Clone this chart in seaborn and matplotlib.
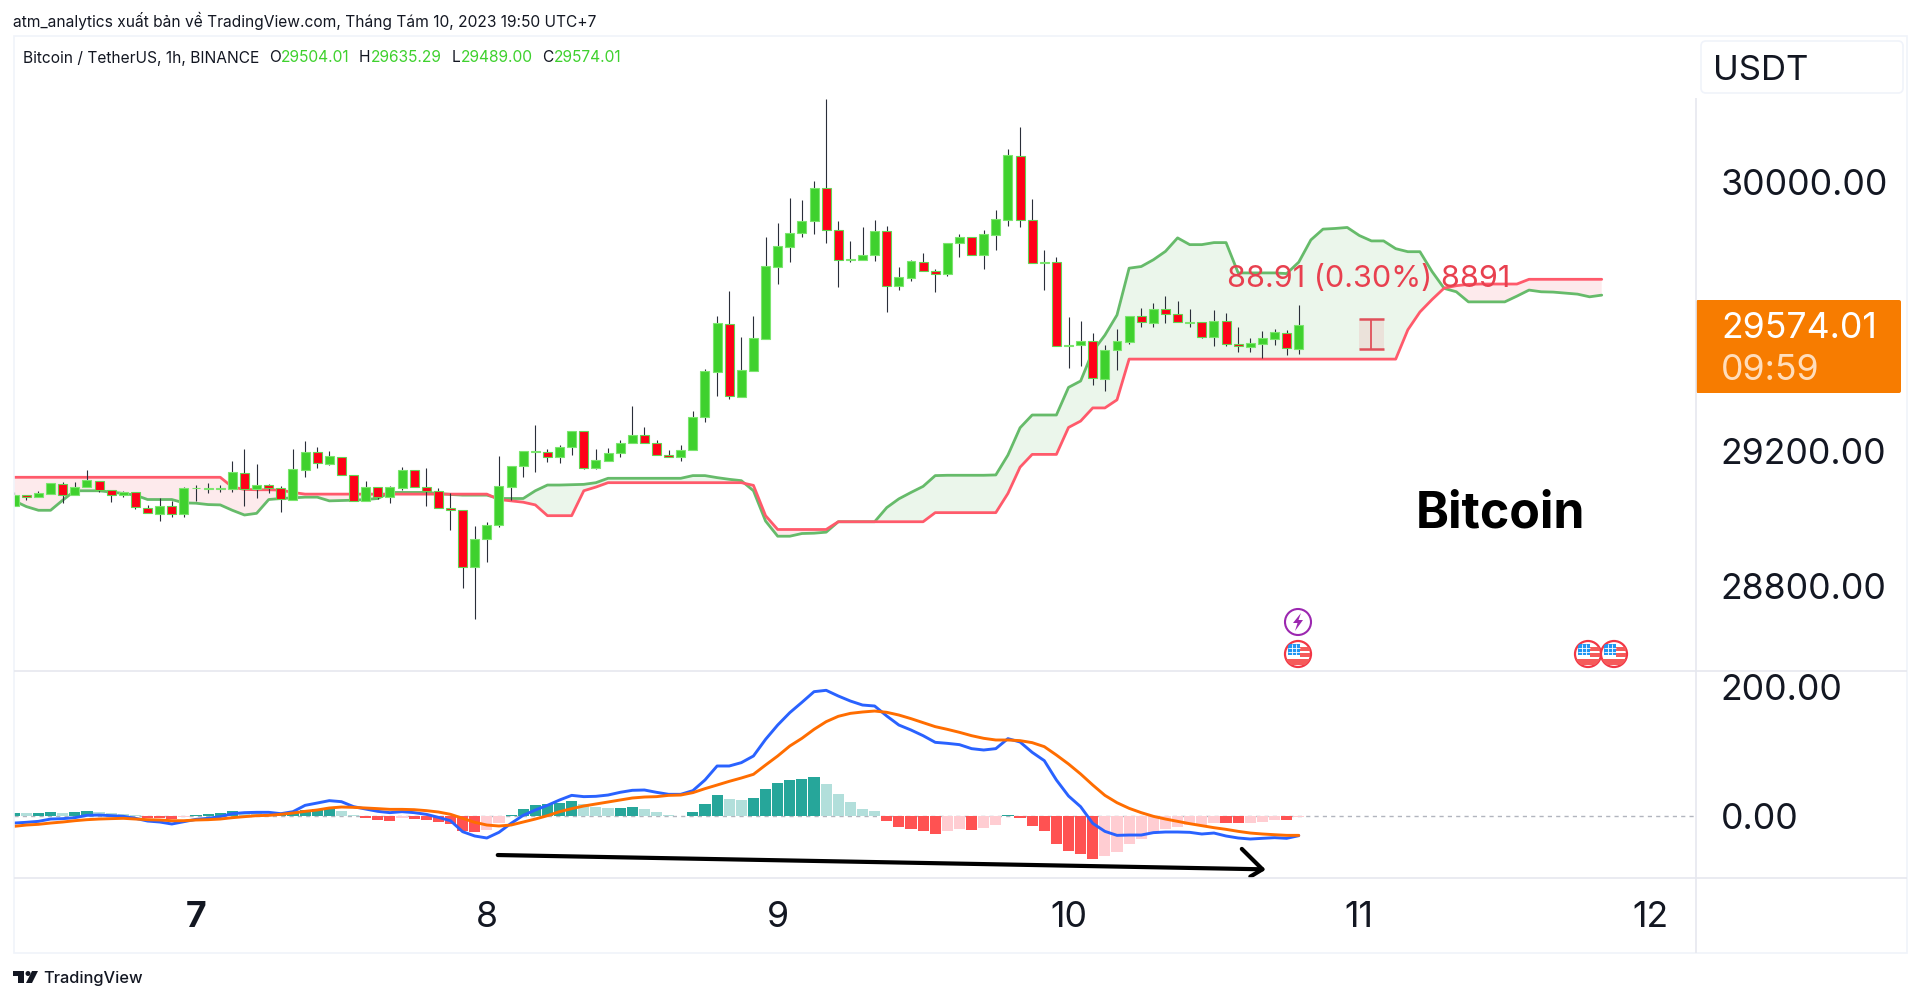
import numpy as np
import pandas as pd
import matplotlib
matplotlib.use('Agg')
import matplotlib.pyplot as plt
from matplotlib.patches import Circle, FancyBboxPatch, Polygon, Rectangle
import seaborn as sns

# hourly candles, hour 0 = Aug 7 00:00
first_hour = -15
opens = [29039, 29069, 29064, 29074, 29104, 29070, 29094, 29113, 29085, 29069, 29078, 29033, 29015, 29038, 29014,
         29090, 29089, 29089, 29089, 29137, 29087, 29100, 29090, 29057, 29146, 29197, 29163, 29184, 29129, 29053,
         29094, 29064, 29092, 29144, 29093, 29081, 29031, 29025, 28858, 28939, 28982, 29095, 29156, 29197, 29197,
         29182, 29213, 29259, 29151, 29172, 29196, 29226, 29249, 29225, 29188, 29182, 29203, 29301, 29437, 29579,
         29362, 29440, 29535, 29748, 29808, 29848, 29885, 29982, 29856, 29767, 29769, 29783, 29853, 29692, 29716,
         29763, 29736, 29727, 29820, 29837, 29783, 29844, 29888, 30078, 29886, 29758, 29761, 29513, 29516, 29527,
         29416, 29501, 29526, 29602, 29582, 29622, 29609, 29582, 29583, 29541, 29586, 29518, 29511, 29519, 29535,
         29553, 29504.01]
highs = [29078, 29069, 29083, 29105, 29108, 29109, 29145, 29113, 29085, 29082, 29078, 29041, 29062, 29053, 29094,
         29099, 29107, 29101, 29172, 29207, 29163, 29103, 29097, 29207, 29232, 29213, 29201, 29184, 29129, 29112,
         29094, 29097, 29155, 29144, 29151, 29092, 29076, 29027, 28977, 28990, 29187, 29156, 29200, 29278, 29206,
         29218, 29260, 29259, 29206, 29209, 29234, 29335, 29273, 29234, 29204, 29219, 29321, 29444, 29602, 29676,
         29539, 29603, 29838, 29879, 29953, 29947, 30002, 30246, 29884, 29824, 29866, 29886, 29869, 29747, 29768,
         29790, 29741, 29820, 29847, 29837, 29856, 29917, 30098, 30162, 29950, 29798, 29776, 29598, 29587, 29552,
         29515, 29564, 29602, 29627, 29642, 29661, 29646, 29623, 29583, 29619, 29611, 29569, 29537, 29556, 29563,
         29561, 29635.29]
lows = [29039, 29057, 29064, 29074, 29048, 29070, 29094, 29078, 29050, 29064, 29030, 29016, 28994, 29004, 29004,
        29053, 29077, 29078, 29078, 29039, 29062, 29076, 29021, 29057, 29123, 29152, 29160, 29129, 29053, 29053,
        29059, 29048, 29085, 29094, 29037, 29032, 28967, 28793, 28703, 28870, 28975, 29057, 29123, 29139, 29169,
        29166, 29189, 29149, 29149, 29172, 29183, 29226, 29226, 29189, 29183, 29172, 29203, 29287, 29364, 29357,
        29362, 29440, 29535, 29698, 29761, 29836, 29846, 29819, 29688, 29762, 29769, 29765, 29614, 29679, 29706,
        29736, 29674, 29722, 29778, 29783, 29743, 29798, 29869, 29867, 29758, 29680, 29514, 29447, 29454, 29398,
        29380, 29442, 29520, 29569, 29569, 29581, 29583, 29569, 29537, 29514, 29514, 29494, 29494, 29478, 29516,
        29486, 29489.00]
closes = [29070, 29064, 29076, 29105, 29070, 29094, 29115, 29085, 29070, 29079, 29034, 29016, 29038, 29015, 29091,
          29092, 29092, 29092, 29138, 29089, 29101, 29091, 29059, 29147, 29198, 29164, 29185, 29129, 29053, 29094,
          29064, 29093, 29145, 29094, 29081, 29032, 29025, 28858, 28940, 28982, 29097, 29156, 29200, 29200, 29183,
          29213, 29260, 29152, 29174, 29196, 29225, 29250, 29226, 29189, 29183, 29204, 29301, 29439, 29580, 29363,
          29442, 29537, 29750, 29810, 29849, 29885, 29983, 29856, 29768, 29772, 29783, 29854, 29692, 29718, 29765,
          29736, 29728, 29820, 29837, 29783, 29845, 29890, 30079, 29887, 29758, 29762, 29514, 29517, 29528, 29417,
          29501, 29528, 29602, 29584, 29622, 29609, 29583, 29584, 29541, 29587, 29518, 29512, 29522, 29537, 29554,
          29506, 29574.01]

# ichimoku cloud, runs 25 hours past the last candle
span_a = [29053, 29036, 29025, 29025, 29055, 29083, 29083, 29083, 29079, 29075, 29070, 29057, 29057, 29057, 29047,
          29046, 29042, 29041, 29025, 29011, 29016, 29057, 29060, 29062, 29064, 29064, 29053, 29054, 29055, 29057,
          29060, 29078, 29078, 29078, 29078, 29075, 29072, 29070, 29070, 29070, 29060, 29060, 29060, 29083, 29100,
          29100, 29101, 29102, 29107, 29120, 29120, 29120, 29120, 29120, 29120, 29120, 29128, 29128, 29122, 29117,
          29113, 29083, 28993, 28948, 28948, 28956, 28957, 28960, 28991, 28991, 28991, 28991, 29033, 29059, 29078,
          29096, 29128, 29129, 29129, 29129, 29129, 29130, 29189, 29270, 29308, 29308, 29308, 29390, 29409, 29497,
          29545, 29605, 29744, 29749, 29769, 29794, 29834, 29814, 29814, 29820, 29820, 29730, 29730, 29730, 29730,
          29728, 29762, 29828, 29860, 29862, 29865, 29841, 29825, 29825, 29802, 29793, 29793, 29734, 29684, 29674,
          29644, 29644, 29644, 29644, 29661, 29679, 29674, 29673, 29670, 29667, 29659, 29664]
span_b = ([29123] * 18 + [29094, 29087, 29086, 29086, 29085, 29078] + [29073] * 16
          + [29057, 29053, 29049, 29041, 29009, 29009, 29009, 29083, 29094] + [29107] * 12
          + [29099, 29009] + [28968] * 5 + [28991] * 8 + [29018] * 6
          + [29075, 29153, 29191, 29191, 29191, 29271, 29290, 29329, 29329, 29353] + [29474] * 23
          + [29561, 29614, 29651, 29685, 29692, 29696, 29697, 29697, 29697, 29697] + [29711] * 7)

macd_line = [-10.9, -9.8, -8.3, -4.7, -4.1, -2.6, 1, 1.5, 0.5, -0.5, -3.6, -7.8, -9.3, -12.4, -8.8,
             -5.2, -3.6, -1, 3.6, 5.2, 5.7, 5.7, 3.6, 6.7, 16.5, 20.1, 23.8, 22.2, 14.5, 10.8,
             7.2, 5.2, 6.7, 5.2, 2.6, -2.1, -7.3, -24.3, -31, -34.1, -25.3, -11.4, 1, 9.3, 16.5,
             24.8, 32, 30, 30.5, 32.5, 36.7, 39.8, 40.3, 36.7, 33.6, 33.6,
             39.3, 55.8, 77.5, 77.5, 82.7, 93, 118.8, 141, 160.2, 176.2, 192.7, 194.8, 186, 178.2, 172,
             170.5, 155, 141, 133.3, 124.5, 114.2, 112.6, 110.6, 104.4, 102.3, 104.4, 119.9, 114.7, 98.7, 85.8,
             55.8, 31, 14.4, -11.4, -23.8, -30, -29.5, -29.5, -25.8, -24.8, -24.8, -25.3, -27.9, -26.4, -31,
             -34.1, -35.7, -34.6, -33.6, -34.6, -30.5]
signal_line = [-16, -14, -12.9, -10.9, -9.3, -7.3, -5.7, -4.7, -4.1, -3.6, -4.7, -5.7, -6.2, -7.3, -7.3,
               -6.2, -5.7, -4.7, -2.6, -1, 0.5, 1, 2.6, 4.6, 7.2, 9.3, 12.4, 13.9, 13.4, 12.4,
               11.4, 10.3, 10.3, 9.8, 8.3, 6.2, 2.6, -3.6, -9.8, -14, -15.5, -14, -9.3, -4.7, 0.5,
               6.7, 11.4, 15.5, 18.6, 21.7, 24.8, 27.9, 29.4, 30, 32, 32.5,
               36.2, 42.4, 48, 53.7, 58.9, 64.6, 79, 93, 108.5, 120.4, 134.3, 146.2, 154.5, 159.1, 161.2,
               162.7, 160.7, 156.5, 150.9, 144.7, 138.5, 134.3, 129.7, 124.5, 120.4, 117.8, 117.8, 116.8, 113.7, 107.5,
               94.5, 80.6, 65.1, 48, 32, 20.6, 11.9, 5.2, -0.5, -4.7, -8.3, -11.9, -15, -18.1, -20.7,
               -23.8, -26.4, -27.9, -29, -30, -30]
macd_hist = [4.6, 4.6, 4.6, 6.2, 5.2, 6.2, 7.8, 6.2, 4.6, 3.1, 1, -2.6, -3.6, -4.7, -2,
             1.5, 3.1, 4.6, 7.8, 5.2, 4.1, 3.1, 4.1, 6.7, 9.3, 10.9, 11.9, 8.3, 1,
             -2.6, -5.7, -7.2, -2.6, -4.7, -5.7, -9.3, -11.9, -23.8, -24.8, -21.7, -10.3,
             2.1, 10.9, 17, 18.6, 20.7, 23.8, 18, 13.4, 12.4, 12.4, 14, 10.9, 6.2, 1.5, 0.5,
             5.7, 18, 32, 25.8, 24.8, 27.9, 41.9, 51.2, 55.8, 57.4, 60.5, 50.1, 34.1, 21.2, 10.9, 7.8,
             -7.2, -17, -19.6, -23.2, -27.4, -23.2, -19.6, -21.7, -18.6, -14,
             1.5, -3.1, -15.5, -23.2, -42.9, -54.3, -58.9, -66.7, -62, -55.8, -43.9, -36.2, -26.9, -20.2,
             -17, -14, -15.5, -10.3, -10.9, -10.9, -10.9, -9.3, -5.7, -6.2, -1.5]
# g dark teal, l light teal, r dark red, p pink
hist_kind = list("glgglggllllrrrp" + "gggglllgggggll" + "rrrprrrrrrpp" + "gggggglllggllll"
                 + "gggllgggggglllll" + "rrrrrpprpp" + "grrrrrrrpppppppppprrppprp")

price_ticks = [28800, 29200, 30000]
price_labels = ['28800.00', '29200.00', '30000.00']
macd_ticks = [0, 200]
macd_labels = ['0.00', '200.00']
day_hours = [0, 24, 48, 72, 96, 120]
day_labels = ['7', '8', '9', '10', '11', '12']

measure_hours = [96, 98]
measure_prices = [29505.09, 29594]
trend_hours = [24.9, 88.0]
trend_values = [-60.5, -82.6]
head_hours = [86.3, 88.0, 87.0]
head_values = [-51, -82.6, -94]

GREEN = '#3FD12E'
RED = '#FF0018'
DARK = '#131722'

sns.set_theme(style='white')
plt.rcParams['font.family'] = ['Inter', 'DejaVu Sans']

fig = plt.figure(figsize=(19.2, 9.99), dpi=100, facecolor='white')
ax1 = fig.add_axes([14 / 1920, (999 - 671) / 999, 1682 / 1920, 635 / 999])
ax2 = fig.add_axes([14 / 1920, (999 - 878) / 999, 1682 / 1920, 207 / 999])

hours = np.arange(first_hour, first_hour + len(opens))
candles = pd.DataFrame({'hour': hours, 'open': opens, 'high': highs, 'low': lows, 'close': closes})
candles['height'] = (candles['close'] - candles['open']).abs()
candles['bottom'] = candles[['open', 'close']].min(axis=1)

cloud_hours = np.arange(first_hour, first_hour + len(span_a))
cloud = pd.DataFrame({'hour': cloud_hours, 'a': span_a, 'b': span_b})

# cloud
ax1.fill_between(cloud['hour'], cloud['a'], cloud['b'], where=cloud['a'] >= cloud['b'], interpolate=True,
                 color='#4CAF50', alpha=0.11, linewidth=0, zorder=1)
ax1.fill_between(cloud['hour'], cloud['a'], cloud['b'], where=cloud['a'] < cloud['b'], interpolate=True,
                 color='#F23645', alpha=0.10, linewidth=0, zorder=1)
sns.lineplot(data=cloud, x='hour', y='a', color='#66BB6A', linewidth=2.0, estimator=None, ax=ax1, zorder=2)
sns.lineplot(data=cloud, x='hour', y='b', color='#FF5A6B', linewidth=2.0, estimator=None, ax=ax1, zorder=2)

# candles
ax1.vlines(candles['hour'], candles['low'], candles['high'], color='#2A2E39', linewidth=0.8, zorder=3)
up = candles[candles['close'] >= candles['open']]
down = candles[candles['close'] < candles['open']]
sns.barplot(data=up, x='hour', y='height', bottom=up['bottom'].values, native_scale=True, color=GREEN,
            saturation=1, width=0.74, edgecolor='#7BE56E', linewidth=0.8, errorbar=None, ax=ax1, zorder=4)
sns.barplot(data=down, x='hour', y='height', bottom=down['bottom'].values, native_scale=True, color=RED,
            saturation=1, width=0.74, edgecolor='#62D552', linewidth=0.8, errorbar=None, ax=ax1, zorder=4)

# measure tool
ax1.add_patch(Rectangle((measure_hours[0], measure_prices[0]), measure_hours[1] - measure_hours[0],
                        measure_prices[1] - measure_prices[0], color='#F23645', alpha=0.1, linewidth=0, zorder=3))
ax1.hlines(measure_prices, measure_hours[0], measure_hours[1], color='#E0505A', linewidth=1.8, zorder=5)
ax1.vlines(np.mean(measure_hours), measure_prices[0], measure_prices[1], color='#E0505A', linewidth=1.3, zorder=5)

# macd pane
hist = pd.DataFrame({'hour': hours, 'hist': macd_hist, 'kind': hist_kind})
sns.barplot(data=hist, x='hour', y='hist', hue='kind', native_scale=True, dodge=False, legend=False,
            palette={'g': '#26A69A', 'l': '#B2DFDB', 'r': '#FF5252', 'p': '#FFCDD2'},
            saturation=1, width=0.92, linewidth=0, errorbar=None, ax=ax2, zorder=2)
ax2.axhline(0, color='#B2B5BE', linewidth=1, dashes=(3, 3), zorder=1)
macd = pd.DataFrame({'hour': hours, 'macd': macd_line, 'signal': signal_line})
sns.lineplot(data=macd, x='hour', y='macd', color='#2962FF', linewidth=2.1, estimator=None, ax=ax2, zorder=3)
sns.lineplot(data=macd, x='hour', y='signal', color='#FF6D00', linewidth=2.1, estimator=None, ax=ax2, zorder=3)
ax2.plot(trend_hours, trend_values, color='black', linewidth=3, solid_capstyle='round', zorder=4)
ax2.plot(head_hours, head_values, color='black', linewidth=3, zorder=4)

for ax in (ax1, ax2):
    ax.set_xlim(-15.02, 123.78)
    ax.set_xlabel('')
    ax.set_ylabel('')
    ax.patch.set_alpha(0)
    sns.despine(ax=ax, left=True, bottom=True, right=True, top=True)
    ax.yaxis.tick_right()
    ax.tick_params(axis='y', length=0, pad=17.8, labelsize=25.7, labelcolor=DARK)
ax1.set_ylim(28547.7, 30433.6)
ax2.set_ylim(-96.1, 224.75)
ax1.set_xticks([])
ax1.set_yticks(price_ticks, price_labels)
ax2.set_yticks(macd_ticks, macd_labels)
ax2.set_xticks(day_hours, day_labels)
ax2.tick_params(axis='x', length=0, pad=16.5, labelsize=25.7, labelcolor=DARK)
ax2.get_xticklabels()[0].set_fontweight('bold')

# everything around the panes, laid out in pixels
px = fig.add_axes([0, 0, 1, 1], zorder=10)
px.set_xlim(0, 1920)
px.set_ylim(999, 0)
px.axis('off')

line_col = '#E6E8EF'
px.add_patch(Rectangle((14, 36), 1893, 917, fill=False, edgecolor='#F0F3FA', linewidth=1.2))
px.hlines([671, 878], 14, 1907, color=line_col, linewidth=1.2)
px.vlines(1696, 98, 953, color=line_col, linewidth=1.2)
px.add_patch(FancyBboxPatch((1704, 44), 196, 46, boxstyle='round,pad=3,rounding_size=5',
                            facecolor='white', edgecolor='#F0F3FA', linewidth=1.2))
px.text(1713, 70.5, 'USDT', fontsize=25, color=DARK, va='center')

px.add_patch(FancyBboxPatch((1696, 300), 205, 93, boxstyle='round,pad=0,rounding_size=2',
                            facecolor='#F77C00', edgecolor='none'))
px.text(1721, 329, '29574.01', fontsize=25.7, color='white', va='center')
px.text(1721, 371, '09:59', fontsize=25.7, color='#FFDDBB', va='center')

px.text(13, 20.5, 'atm_analytics xuất bản về TradingView.com, Tháng Tám 10, 2023 19:50 UTC+7',
        fontsize=11.2, color=DARK, va='center')
px.text(23, 58, 'Bitcoin / TetherUS, 1h, BINANCE', fontsize=11.2, color=DARK, va='center')
for x, letter, value in [(269, 'O', '29504.01'), (359, 'H', '29635.29'), (452, 'L', '29489.00'), (542, 'C', '29574.01')]:
    px.text(x, 58, letter, fontsize=11.2, color=DARK, va='center')
    px.text(x + (9 if letter == 'L' else 12), 58, value, fontsize=11.2, color=GREEN, va='center')

px.text(1227, 279, '88.91 (0.30%) 8891', fontsize=22, color='#E8404F', va='center')
px.text(1416, 514, 'Bitcoin', fontsize=36, color='black', fontweight='bold', va='center')

# event icons
def flag_icon(cx, cy):
    ring = Circle((cx, cy), 13, facecolor='white', edgecolor='#F23645', linewidth=1.6)
    px.add_patch(ring)
    for rect in [Rectangle((cx - 10, cy - 10), 12, 11, color='#2196F3', linewidth=0),
                 Rectangle((cx + 2, cy - 7), 10, 4, color='#F55A5A', linewidth=0),
                 Rectangle((cx + 2, cy - 1), 10, 4, color='#F55A5A', linewidth=0),
                 Rectangle((cx - 12, cy + 5), 24, 6, color='#F55A5A', linewidth=0)]:
        px.add_patch(rect)
        rect.set_clip_path(ring)
    # white grid on the canton
    px.vlines([cx - 6, cx - 2], cy - 10, cy + 1, color='white', linewidth=0.6)
    px.hlines([cy - 6, cy - 2], cx - 10, cx + 2, color='white', linewidth=0.6)

for cx in [1298, 1588, 1614]:
    flag_icon(cx, 654)
px.add_patch(Circle((1298, 622), 13, facecolor='white', edgecolor='#9C27B0', linewidth=1.5))
px.add_patch(Polygon([(1301, 613), (1293, 623), (1297.5, 623), (1295, 631), (1303, 620), (1298.5, 620)],
                     color='#9C27B0', linewidth=0))

# TradingView logo
px.add_patch(Polygon([(13, 971), (24, 971), (24, 983), (18, 983), (18, 976), (13, 976)], color=DARK, linewidth=0))
px.add_patch(Circle((28, 973.5), 2.5, color=DARK, linewidth=0))
px.add_patch(Polygon([(32, 971), (38, 971), (32, 983), (26, 983)], color=DARK, linewidth=0))
px.text(43, 978.5, 'TradingView', fontsize=11.8, color=DARK, va='center', fontweight='medium')

fig.savefig('out.png', dpi=100)
plt.close(fig)
